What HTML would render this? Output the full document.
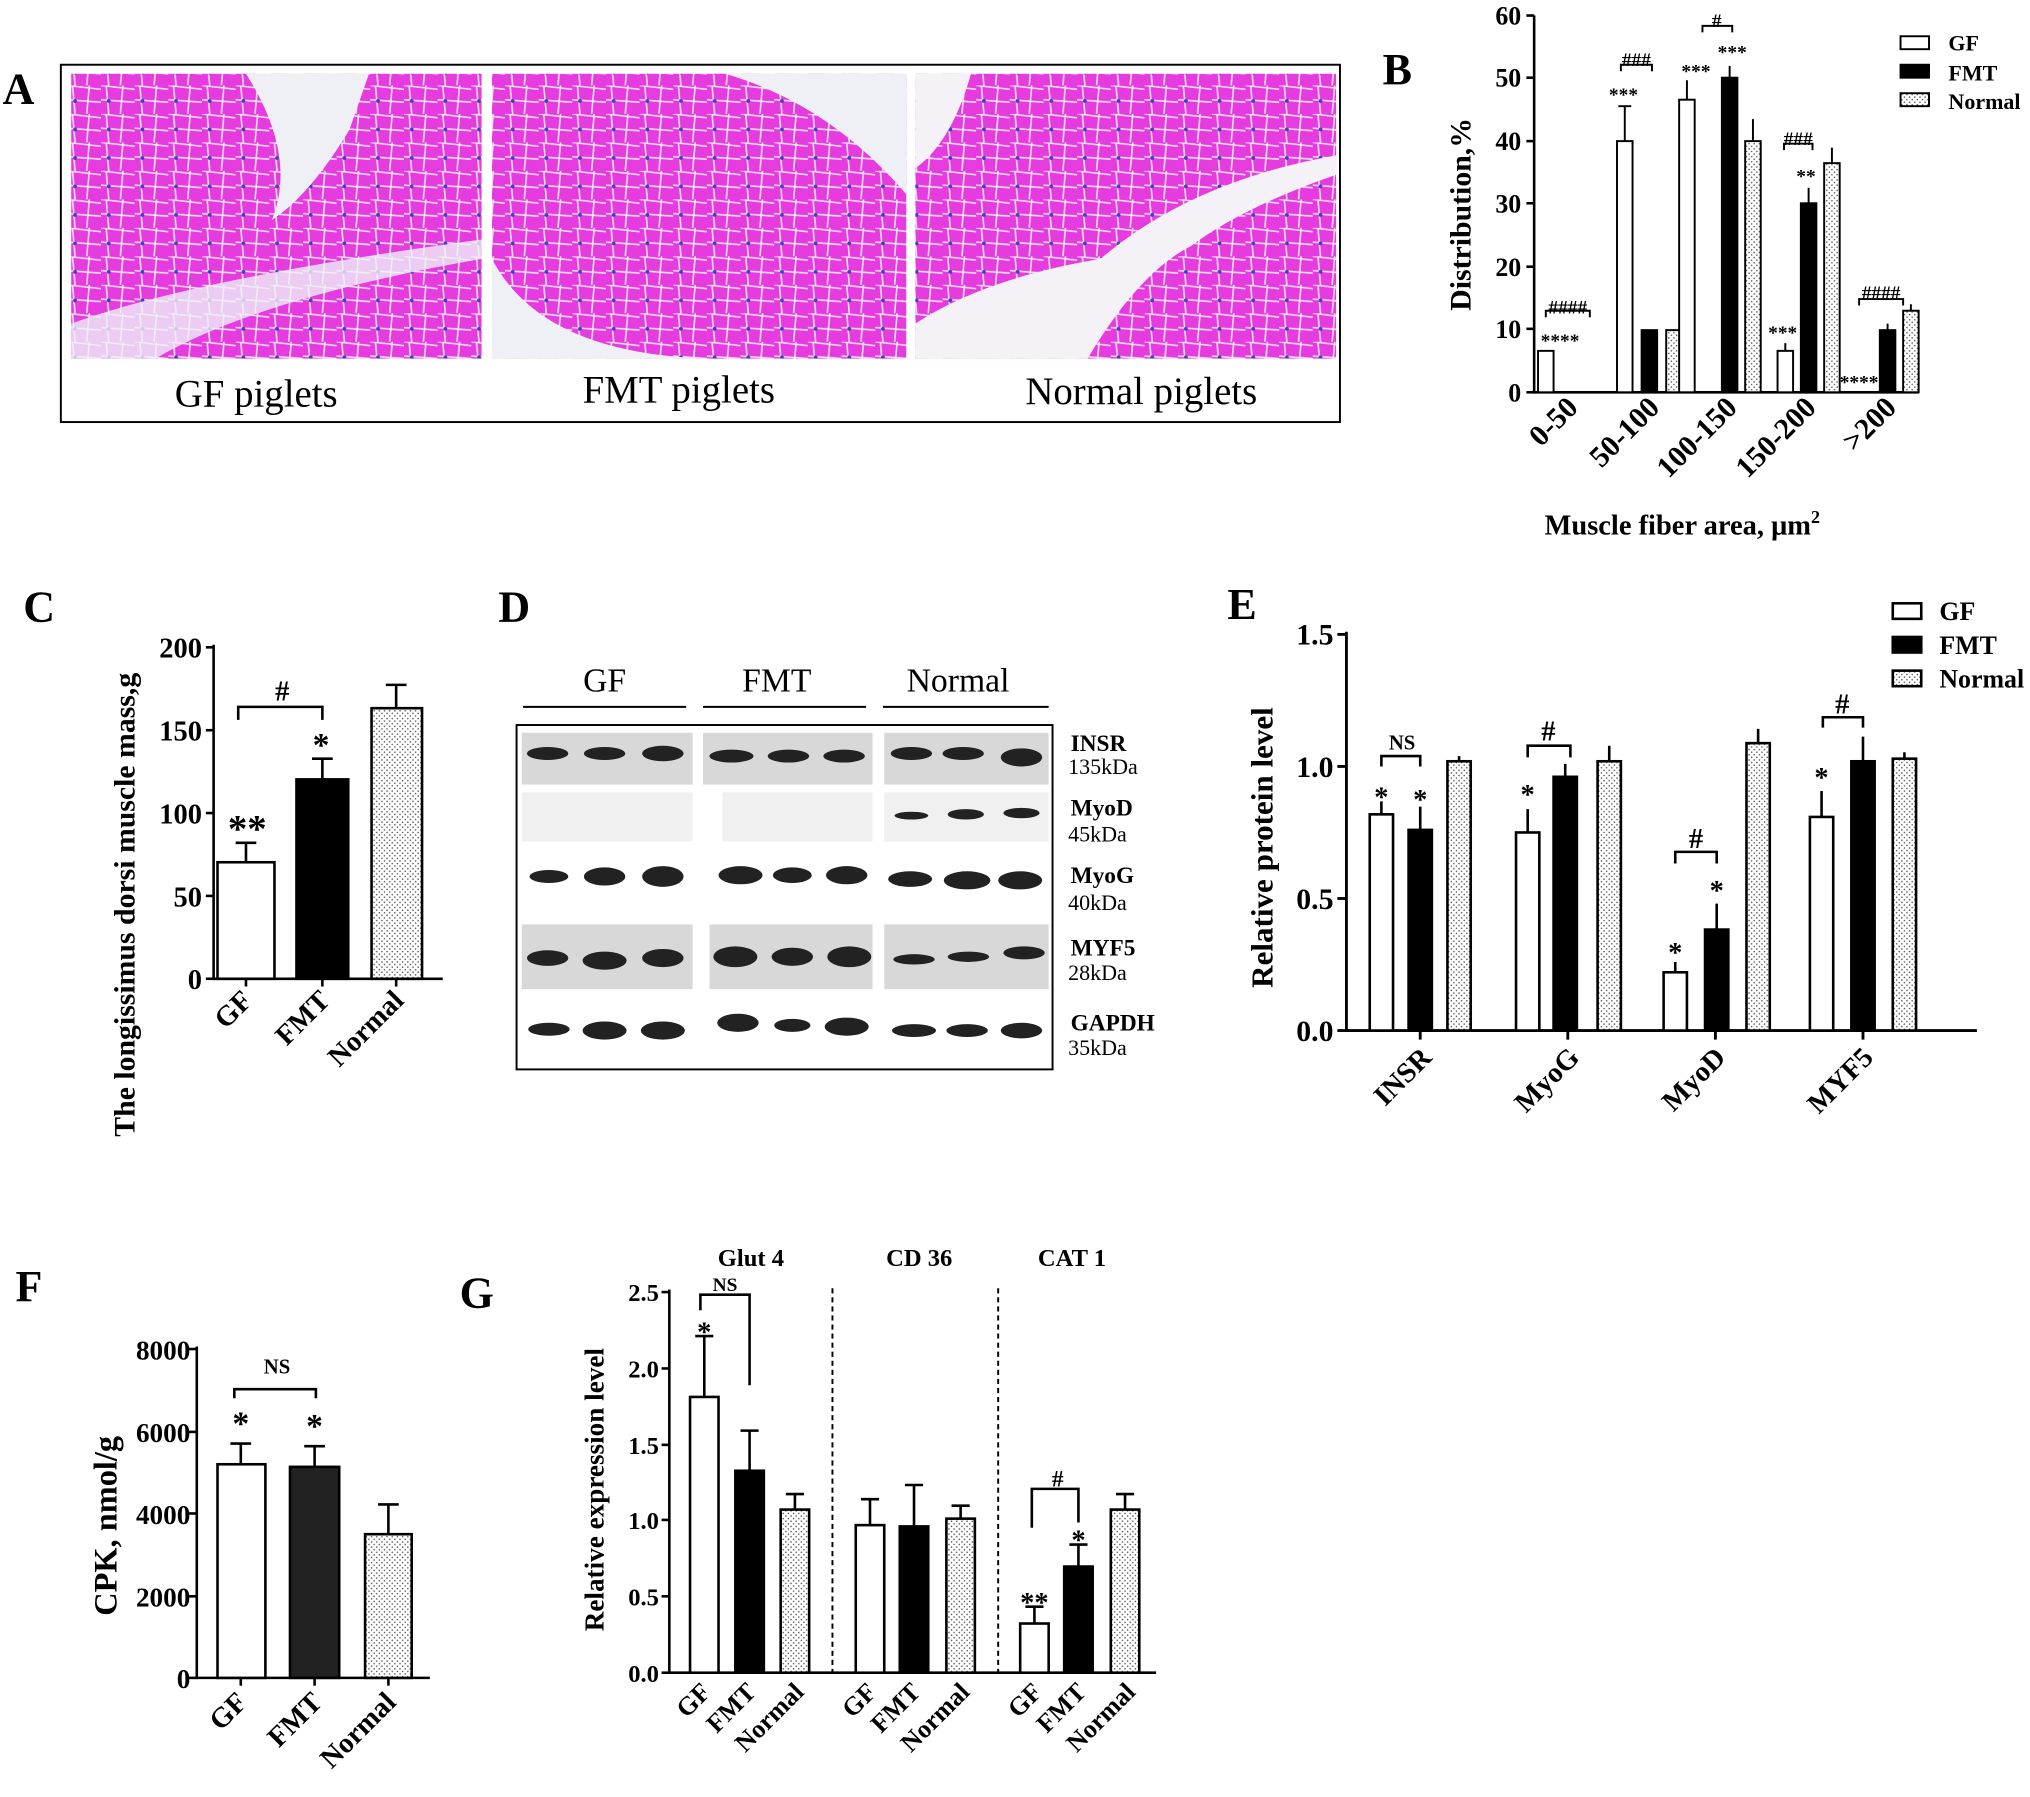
<!DOCTYPE html>
<html><head><meta charset="utf-8"><style>
html,body{margin:0;padding:0;background:#fff;}
svg{display:block;}
text{font-family:"Liberation Serif",serif;font-weight:bold;fill:#000;}
</style></head><body>
<svg width="2030" height="1797" viewBox="0 0 1568 1388" preserveAspectRatio="none" xmlns="http://www.w3.org/2000/svg">
<defs>
<pattern id="dots" width="4" height="4" patternUnits="userSpaceOnUse"><rect width="4" height="4" fill="#fff"/><circle cx="1" cy="1" r="0.6" fill="#555"/><circle cx="3" cy="3" r="0.6" fill="#555"/></pattern>
<pattern id="cells" width="26" height="22" patternUnits="userSpaceOnUse"><rect width="26" height="22" fill="#e63cdf"/><path d="M0 0 L26 3 M0 11 L26 13 M4 0 L6 22 M17 0 L15 22" stroke="#f6e6f6" stroke-width="1.2"/><circle cx="6" cy="12" r="1.5" fill="#4040c0"/></pattern>
</defs>
<!-- Panel A -->
<text x="2" y="80" font-size="34">A</text>
<rect x="47" y="50" width="988" height="276" fill="#fff" stroke="#000" stroke-width="1.5"/>
<rect x="55" y="57" width="317" height="220" fill="url(#cells)"/>
<path d="M190 57 Q230 120 210 170 Q240 150 270 100 L285 57 Z" fill="#eef0f6"/>
<path d="M55 250 Q150 215 372 185 L372 200 Q200 230 120 277 L55 277 Z" fill="#eef0f6" opacity="0.8"/>
<rect x="380" y="57" width="320" height="220" fill="url(#cells)"/>
<path d="M560 57 L700 57 L700 150 Q640 80 560 57 Z M380 200 Q420 277 560 277 L380 277 Z" fill="#eef0f6"/>
<rect x="707" y="57" width="325" height="220" fill="url(#cells)"/>
<path d="M707 57 L750 57 Q735 110 707 130 Z M707 277 L707 250 Q760 215 850 200 Q920 140 1032 120 L1032 135 Q960 160 920 190 Q880 210 840 277 Z" fill="#f4f2f6"/>
<text x="135" y="314" font-size="30" style="font-weight:normal">GF  piglets</text>
<text x="450" y="311" font-size="30" style="font-weight:normal">FMT  piglets</text>
<text x="792" y="312" font-size="30" style="font-weight:normal">Normal  piglets</text>

<!-- Panel B -->
<text x="1068" y="65" font-size="34">B</text>
<g stroke="#000" stroke-width="2" fill="none">
<line x1="1185" y1="12" x2="1185" y2="304"/><line x1="1185" y1="303" x2="1482" y2="303"/>
<line x1="1179" y1="12" x2="1185" y2="12"/><line x1="1179" y1="60" x2="1185" y2="60"/><line x1="1179" y1="109" x2="1185" y2="109"/><line x1="1179" y1="157" x2="1185" y2="157"/><line x1="1179" y1="206" x2="1185" y2="206"/><line x1="1179" y1="254" x2="1185" y2="254"/><line x1="1179" y1="303" x2="1185" y2="303"/>
</g>
<g font-size="20" text-anchor="end">
<text x="1175" y="19">60</text><text x="1175" y="67">50</text><text x="1175" y="116">40</text><text x="1175" y="164">30</text><text x="1175" y="213">20</text><text x="1175" y="261">10</text><text x="1175" y="310">0</text></g>
<text transform="translate(1136,240) rotate(-90)" font-size="23">Distribution,%</text>
<g stroke="#000" stroke-width="1.5">
<rect x="1188" y="271" width="12" height="32" fill="#fff"/>
<rect x="1249" y="109" width="12" height="194" fill="#fff"/><rect x="1268" y="255" width="12" height="48" fill="#000"/><rect x="1287" y="255" width="12" height="48" fill="url(#dots)"/>
<rect x="1297" y="77" width="12" height="226" fill="#fff"/><rect x="1330" y="60" width="12" height="243" fill="#000"/><rect x="1348" y="109" width="12" height="194" fill="url(#dots)"/>
<rect x="1373" y="271" width="12" height="32" fill="#fff"/><rect x="1391" y="157" width="12" height="146" fill="#000"/><rect x="1409" y="126" width="12" height="177" fill="url(#dots)"/>
<rect x="1452" y="255" width="12" height="48" fill="#000"/><rect x="1470" y="240" width="12" height="63" fill="url(#dots)"/>
<path d="M1255 109V82M1250 82H1260M1303 77V62M1336 60V51M1354 109V92M1379 271V265M1397 157V145M1415 126V114M1458 255V250M1476 240V235" fill="none"/>
<path d="M1194 245V240H1228V245M1252 55V50H1276V55M1315 25V20H1338V25M1378 116V111H1400V116M1436 236V231H1470V236" fill="none"/>
</g>
<g font-size="15" text-anchor="middle">
<text x="1211" y="242">####</text><text x="1205" y="268">****</text>
<text x="1264" y="51">###</text><text x="1254" y="78">***</text>
<text x="1326" y="21">#</text><text x="1338" y="45">***</text><text x="1310" y="60">***</text>
<text x="1389" y="112">###</text><text x="1395" y="141">**</text><text x="1377" y="262">***</text>
<text x="1453" y="231">####</text><text x="1436" y="300">****</text></g>
<g font-size="23" text-anchor="end">
<text transform="translate(1220,316) rotate(-45)">0-50</text>
<text transform="translate(1283,316) rotate(-45)">50-100</text>
<text transform="translate(1343,316) rotate(-45)">100-150</text>
<text transform="translate(1404,316) rotate(-45)">150-200</text>
<text transform="translate(1466,316) rotate(-45)">&gt;200</text></g>
<text x="1193" y="413" font-size="22">Muscle fiber area, μm<tspan font-size="14" dy="-9">2</tspan></text>
<g stroke="#000" stroke-width="1.5"><rect x="1468" y="28" width="22" height="10" fill="#fff"/><rect x="1468" y="50" width="22" height="10" fill="#000"/><rect x="1468" y="72" width="22" height="10" fill="url(#dots)"/></g>
<g font-size="17"><text x="1505" y="39">GF</text><text x="1505" y="62">FMT</text><text x="1505" y="84">Normal</text></g>

<!-- Panel C -->
<text x="18" y="480" font-size="34">C</text>
<g stroke="#000" stroke-width="2" fill="none">
<line x1="165" y1="498" x2="165" y2="757"/><line x1="165" y1="756" x2="342" y2="756"/>
<line x1="159" y1="500" x2="165" y2="500"/><line x1="159" y1="564" x2="165" y2="564"/><line x1="159" y1="628" x2="165" y2="628"/><line x1="159" y1="692" x2="165" y2="692"/><line x1="159" y1="756" x2="165" y2="756"/>
<line x1="190" y1="756" x2="190" y2="762"/><line x1="249" y1="756" x2="249" y2="762"/><line x1="306" y1="756" x2="306" y2="762"/>
</g>
<g font-size="22" text-anchor="end"><text x="156" y="508">200</text><text x="156" y="572">150</text><text x="156" y="636">100</text><text x="156" y="700">50</text><text x="156" y="764">0</text></g>
<text transform="translate(104,878) rotate(-90)" font-size="23">The longissimus dorsi muscle mass,g</text>
<g stroke="#000" stroke-width="2">
<rect x="168" y="666" width="44" height="90" fill="#fff"/><rect x="229" y="602" width="40" height="154" fill="#000"/><rect x="287" y="547" width="39" height="209" fill="url(#dots)"/>
<path d="M190 666V651M182 651H198M249 602V586M241 586H257M306 547V529M298 529H314M184 556V546H249V556" fill="none"/></g>
<text x="218" y="541" font-size="22" text-anchor="middle">#</text>
<text x="191" y="650" font-size="30" text-anchor="middle">**</text>
<text x="248" y="584" font-size="26" text-anchor="middle">*</text>
<g font-size="22" text-anchor="end">
<text transform="translate(196,774) rotate(-45)">GF</text>
<text transform="translate(256,774) rotate(-45)">FMT</text>
<text transform="translate(313,774) rotate(-45)">Normal</text></g>

<!-- Panel D -->
<text x="385" y="480" font-size="34">D</text>
<g font-size="26" text-anchor="middle"><text x="467" y="534" style="font-weight:normal">GF</text><text x="600" y="534" style="font-weight:normal">FMT</text><text x="740" y="534" style="font-weight:normal">Normal</text></g>
<g stroke="#000" stroke-width="1.5"><line x1="404" y1="546" x2="530" y2="546"/><line x1="543" y1="546" x2="669" y2="546"/><line x1="682" y1="546" x2="810" y2="546"/></g>
<rect x="399" y="560" width="414" height="266" fill="#fff" stroke="#000" stroke-width="1.5"/>
<g fill="#d8d8d8">
<rect x="403" y="566" width="132" height="40"/><rect x="543" y="566" width="131" height="40"/><rect x="683" y="566" width="127" height="40"/>
<rect x="403" y="612" width="132" height="38" fill="#f0f0f0"/><rect x="558" y="612" width="116" height="38" fill="#f0f0f0"/><rect x="683" y="612" width="127" height="38" fill="#f0f0f0"/>
<rect x="403" y="714" width="132" height="50"/><rect x="548" y="714" width="126" height="50"/><rect x="683" y="714" width="127" height="50"/>
</g>
<g fill="#222">
<ellipse cx="423" cy="582" rx="16" ry="5"/><ellipse cx="467" cy="582" rx="16" ry="5"/><ellipse cx="512" cy="582" rx="16" ry="6"/>
<ellipse cx="565" cy="584" rx="17" ry="5"/><ellipse cx="609" cy="584" rx="16" ry="5"/><ellipse cx="652" cy="584" rx="16" ry="5"/>
<ellipse cx="704" cy="582" rx="16" ry="5"/><ellipse cx="744" cy="582" rx="16" ry="5"/><ellipse cx="789" cy="585" rx="16" ry="7"/>
<ellipse cx="704" cy="630" rx="13" ry="3"/><ellipse cx="746" cy="629" rx="14" ry="4"/><ellipse cx="789" cy="628" rx="14" ry="4"/>
<ellipse cx="424" cy="677" rx="15" ry="5"/><ellipse cx="467" cy="677" rx="16" ry="7"/><ellipse cx="512" cy="677" rx="16" ry="8"/>
<ellipse cx="572" cy="676" rx="17" ry="7"/><ellipse cx="612" cy="676" rx="15" ry="6"/><ellipse cx="654" cy="676" rx="16" ry="7"/>
<ellipse cx="703" cy="679" rx="17" ry="6"/><ellipse cx="747" cy="680" rx="18" ry="7"/><ellipse cx="788" cy="680" rx="17" ry="7"/>
<ellipse cx="423" cy="740" rx="16" ry="6"/><ellipse cx="467" cy="742" rx="17" ry="7"/><ellipse cx="512" cy="740" rx="16" ry="7"/>
<ellipse cx="568" cy="739" rx="17" ry="8"/><ellipse cx="612" cy="739" rx="16" ry="7"/><ellipse cx="656" cy="739" rx="17" ry="8"/>
<ellipse cx="706" cy="741" rx="16" ry="4"/><ellipse cx="748" cy="739" rx="16" ry="4"/><ellipse cx="791" cy="736" rx="16" ry="5"/>
<ellipse cx="424" cy="795" rx="16" ry="5"/><ellipse cx="467" cy="796" rx="17" ry="7"/><ellipse cx="512" cy="796" rx="17" ry="7"/>
<ellipse cx="570" cy="790" rx="16" ry="7"/><ellipse cx="612" cy="792" rx="14" ry="5"/><ellipse cx="654" cy="793" rx="17" ry="7"/>
<ellipse cx="706" cy="796" rx="17" ry="5"/><ellipse cx="747" cy="796" rx="16" ry="5"/><ellipse cx="789" cy="796" rx="16" ry="6"/>
</g>
<g font-size="18"><text x="827" y="580">INSR</text><text x="827" y="630">MyoD</text><text x="827" y="682">MyoG</text><text x="827" y="738">MYF5</text><text x="827" y="796">GAPDH</text></g>
<g font-size="17"><text x="825" y="598" style="font-weight:normal">135kDa</text><text x="825" y="650" style="font-weight:normal">45kDa</text><text x="825" y="703" style="font-weight:normal">40kDa</text><text x="825" y="757" style="font-weight:normal">28kDa</text><text x="825" y="815" style="font-weight:normal">35kDa</text></g>

<!-- Panel E -->
<text x="948" y="478" font-size="34">E</text>
<g stroke="#000" stroke-width="2.2" fill="none">
<line x1="1040" y1="488" x2="1040" y2="797"/><line x1="1040" y1="796" x2="1527" y2="796"/>
<line x1="1033" y1="490" x2="1040" y2="490"/><line x1="1033" y1="592" x2="1040" y2="592"/><line x1="1033" y1="694" x2="1040" y2="694"/><line x1="1033" y1="796" x2="1040" y2="796"/>
<line x1="1097" y1="796" x2="1097" y2="803"/><line x1="1211" y1="796" x2="1211" y2="803"/><line x1="1325" y1="796" x2="1325" y2="803"/><line x1="1439" y1="796" x2="1439" y2="803"/>
</g>
<g font-size="23" text-anchor="end"><text x="1030" y="498">1.5</text><text x="1030" y="600">1.0</text><text x="1030" y="702">0.5</text><text x="1030" y="804">0.0</text></g>
<text transform="translate(983,763) rotate(-90)" font-size="24">Relative protein level</text>
<g stroke="#000" stroke-width="2">
<rect x="1058" y="629" width="18" height="167" fill="#fff"/><rect x="1088" y="641" width="18" height="155" fill="#000"/><rect x="1118" y="588" width="18" height="208" fill="url(#dots)"/>
<rect x="1171" y="643" width="18" height="153" fill="#fff"/><rect x="1200" y="600" width="18" height="196" fill="#000"/><rect x="1234" y="588" width="18" height="208" fill="url(#dots)"/>
<rect x="1285" y="751" width="18" height="45" fill="#fff"/><rect x="1317" y="718" width="18" height="78" fill="#000"/><rect x="1349" y="574" width="18" height="222" fill="url(#dots)"/>
<rect x="1398" y="631" width="18" height="165" fill="#fff"/><rect x="1430" y="588" width="18" height="208" fill="#000"/><rect x="1462" y="586" width="18" height="210" fill="url(#dots)"/>
<path d="M1067 629V619M1097 641V623M1127 588V584M1180 643V625M1209 600V590M1243 588V576M1294 751V743M1326 718V698M1358 574V563M1407 631V611M1439 588V569M1471 586V581" fill="none"/>
<path d="M1067 592V584H1097V592M1180 585V576H1213V585M1294 667V658H1326V667M1408 562V554H1439V562" fill="none"/>
</g>
<g font-size="22" text-anchor="middle">
<text x="1083" y="579" font-size="16">NS</text><text x="1196" y="572">#</text><text x="1310" y="655">#</text><text x="1423" y="551">#</text>
<text x="1067" y="623">*</text><text x="1097" y="625">*</text><text x="1180" y="621">*</text><text x="1294" y="743">*</text><text x="1326" y="695">*</text><text x="1407" y="608">*</text></g>
<g font-size="22" text-anchor="end">
<text transform="translate(1107,818) rotate(-45)">INSR</text>
<text transform="translate(1221,818) rotate(-45)">MyoG</text>
<text transform="translate(1334,818) rotate(-45)">MyoD</text>
<text transform="translate(1448,818) rotate(-45)">MYF5</text></g>
<g stroke="#000" stroke-width="2"><rect x="1462" y="466" width="22" height="12" fill="#fff"/><rect x="1462" y="492" width="22" height="12" fill="#000"/><rect x="1462" y="518" width="22" height="12" fill="url(#dots)"/></g>
<g font-size="20"><text x="1498" y="479">GF</text><text x="1498" y="505">FMT</text><text x="1498" y="531">Normal</text></g>

<!-- Panel F -->
<text x="12" y="1005" font-size="34">F</text>
<g stroke="#000" stroke-width="2" fill="none">
<line x1="152" y1="1040" x2="152" y2="1297"/><line x1="152" y1="1296" x2="332" y2="1296"/>
<line x1="145" y1="1042" x2="152" y2="1042"/><line x1="145" y1="1106" x2="152" y2="1106"/><line x1="145" y1="1169" x2="152" y2="1169"/><line x1="145" y1="1233" x2="152" y2="1233"/><line x1="145" y1="1296" x2="152" y2="1296"/>
<line x1="186" y1="1296" x2="186" y2="1302"/><line x1="243" y1="1296" x2="243" y2="1302"/><line x1="300" y1="1296" x2="300" y2="1302"/>
</g>
<g font-size="21" text-anchor="end"><text x="147" y="1050">8000</text><text x="147" y="1114">6000</text><text x="147" y="1177">4000</text><text x="147" y="1241">2000</text><text x="147" y="1304">0</text></g>
<text transform="translate(90,1248) rotate(-90)" font-size="25">CPK, nmol/g</text>
<g stroke="#000" stroke-width="2">
<rect x="168" y="1131" width="37" height="165" fill="#fff"/><rect x="224" y="1133" width="38" height="163" fill="#222"/><rect x="282" y="1185" width="36" height="111" fill="url(#dots)"/>
<path d="M186 1131V1115M178 1115H194M243 1133V1117M235 1117H251M300 1185V1162M292 1162H308M181 1080V1073H244V1080" fill="none"/></g>
<text x="214" y="1061" font-size="16" text-anchor="middle">NS</text>
<text x="186" y="1108" font-size="26" text-anchor="middle">*</text><text x="243" y="1110" font-size="26" text-anchor="middle">*</text>
<g font-size="22" text-anchor="end">
<text transform="translate(192,1316) rotate(-45)">GF</text>
<text transform="translate(250,1316) rotate(-45)">FMT</text>
<text transform="translate(307,1316) rotate(-45)">Normal</text></g>

<!-- Panel G -->
<text x="355" y="1010" font-size="34">G</text>
<g font-size="19" text-anchor="middle"><text x="580" y="978">Glut 4</text><text x="710" y="978">CD 36</text><text x="828" y="978">CAT 1</text></g>
<g stroke="#000" stroke-width="1.5" stroke-dasharray="4,3"><line x1="643" y1="995" x2="643" y2="1292"/><line x1="771" y1="995" x2="771" y2="1292"/></g>
<g stroke="#000" stroke-width="2" fill="none">
<line x1="517" y1="996" x2="517" y2="1293"/><line x1="517" y1="1292" x2="893" y2="1292"/>
<line x1="511" y1="998" x2="517" y2="998"/><line x1="511" y1="1057" x2="517" y2="1057"/><line x1="511" y1="1116" x2="517" y2="1116"/><line x1="511" y1="1174" x2="517" y2="1174"/><line x1="511" y1="1233" x2="517" y2="1233"/><line x1="511" y1="1292" x2="517" y2="1292"/>
</g>
<g font-size="19" text-anchor="end"><text x="509" y="1005">2.5</text><text x="509" y="1064">2.0</text><text x="509" y="1123">1.5</text><text x="509" y="1181">1.0</text><text x="509" y="1240">0.5</text><text x="509" y="1299">0.0</text></g>
<text transform="translate(466,1260) rotate(-90)" font-size="21">Relative expression level</text>
<g stroke="#000" stroke-width="2">
<rect x="533" y="1079" width="22" height="213" fill="#fff"/><rect x="568" y="1136" width="22" height="156" fill="#000"/><rect x="603" y="1166" width="22" height="126" fill="url(#dots)"/>
<rect x="661" y="1178" width="22" height="114" fill="#fff"/><rect x="695" y="1179" width="22" height="113" fill="#000"/><rect x="731" y="1173" width="22" height="119" fill="url(#dots)"/>
<rect x="788" y="1254" width="22" height="38" fill="#fff"/><rect x="822" y="1210" width="22" height="82" fill="#000"/><rect x="858" y="1166" width="22" height="126" fill="url(#dots)"/>
<path d="M544 1079V1032M537 1032H551M579 1136V1105M572 1105H586M614 1166V1154M607 1154H621M672 1178V1158M665 1158H679M706 1179V1147M699 1147H713M742 1173V1163M735 1163H749M799 1254V1241M792 1241H806M833 1210V1193M826 1193H840M869 1166V1154M862 1154H876" fill="none"/>
<path d="M541 1012V1000H579V1070M797 1180V1150H833V1176" fill="none"/>
</g>
<text x="560" y="997" font-size="15" text-anchor="middle">NS</text>
<text x="817" y="1148" font-size="18" text-anchor="middle">#</text>
<g font-size="22" text-anchor="middle"><text x="544" y="1036">*</text><text x="799" y="1245">**</text><text x="833" y="1197">*</text></g>
<g font-size="20" text-anchor="end">
<text transform="translate(550,1308) rotate(-45)">GF</text>
<text transform="translate(585,1308) rotate(-45)">FMT</text>
<text transform="translate(622,1308) rotate(-45)">Normal</text>
<text transform="translate(678,1308) rotate(-45)">GF</text>
<text transform="translate(712,1308) rotate(-45)">FMT</text>
<text transform="translate(750,1308) rotate(-45)">Normal</text>
<text transform="translate(806,1308) rotate(-45)">GF</text>
<text transform="translate(840,1308) rotate(-45)">FMT</text>
<text transform="translate(878,1308) rotate(-45)">Normal</text></g>
</svg>
</body></html>
